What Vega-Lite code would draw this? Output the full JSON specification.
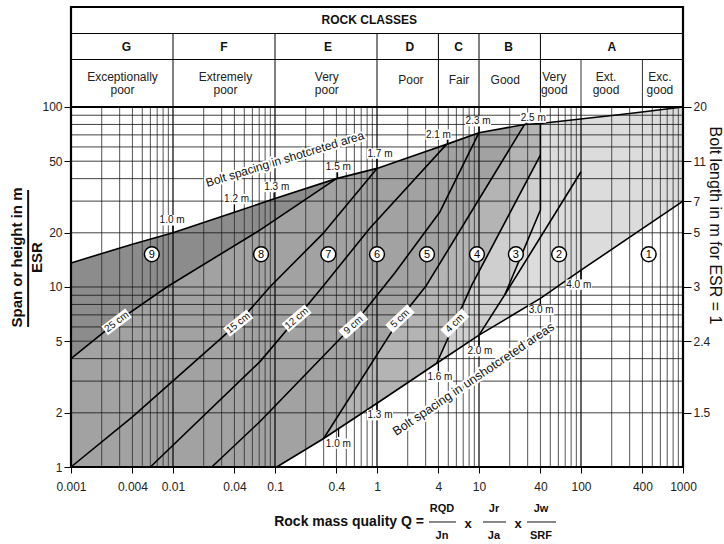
{
"$schema":"https://vega.github.io/schema/vega-lite/v6.json",
"width":612,"height":460,
"autosize":{"type":"none"},
"padding":{"left":71,"top":7,"right":41,"bottom":77},
"background":"white",
"config":{"view":{"stroke":null},"axis":{"domain":false,"grid":false,"tickColor":"#000","labelColor":"#222","labelFont":"Liberation Sans","labelFontSize":12,"titleFont":"Liberation Sans","titleColor":"#111"},"text":{"font":"Liberation Sans"}},
"datasets":{
"polys":[
{"p":"R2","i":0,"q":10,"s":5.4},{"p":"R2","i":1,"q":40,"s":8.65},{"p":"R2","i":2,"q":100,"s":12.4},{"p":"R2","i":3,"q":1000,"s":30},{"p":"R2","i":4,"q":1000,"s":100},{"p":"R2","i":5,"q":300,"s":92},{"p":"R2","i":6,"q":40,"s":81},{"p":"R2","i":7,"q":40,"s":26.8},{"p":"R2","i":8,"q":18,"s":9.1},
{"p":"R3","i":0,"q":3.85,"s":3.77},{"p":"R3","i":1,"q":8.47,"s":10.2},{"p":"R3","i":2,"q":40,"s":54},{"p":"R3","i":3,"q":40,"s":26.8},{"p":"R3","i":4,"q":18,"s":9.1},{"p":"R3","i":5,"q":10,"s":5.4},
{"p":"R4","i":0,"q":0.3,"s":1.44},{"p":"R4","i":1,"q":1.68,"s":6.67},{"p":"R4","i":2,"q":3.05,"s":10.2},{"p":"R4","i":3,"q":28,"s":80},{"p":"R4","i":4,"q":40,"s":81},{"p":"R4","i":5,"q":40,"s":54},{"p":"R4","i":6,"q":8.47,"s":10.2},{"p":"R4","i":7,"q":3.85,"s":3.77},{"p":"R4","i":8,"q":1,"s":2.26},
{"p":"M","i":0,"q":0.001,"s":1},{"p":"M","i":1,"q":0.104,"s":1},{"p":"M","i":2,"q":0.3,"s":1.44},{"p":"M","i":3,"q":1.68,"s":6.67},{"p":"M","i":4,"q":3.05,"s":10.2},{"p":"M","i":5,"q":28,"s":80},{"p":"M","i":6,"q":10,"s":72},{"p":"M","i":7,"q":4.8,"s":62},{"p":"M","i":8,"q":2.6,"s":55},{"p":"M","i":9,"q":1,"s":45.6},{"p":"M","i":10,"q":0.4,"s":40},{"p":"M","i":11,"q":0.1,"s":31},{"p":"M","i":12,"q":0.04,"s":26},{"p":"M","i":13,"q":0.01,"s":20},{"p":"M","i":14,"q":0.004,"s":17.3},{"p":"M","i":15,"q":0.001,"s":13.6},
{"p":"D","i":0,"q":0.001,"s":4},{"p":"D","i":1,"q":0.0028,"s":6.4},{"p":"D","i":2,"q":0.0087,"s":10},{"p":"D","i":3,"q":0.071,"s":20.7},{"p":"D","i":4,"q":0.4,"s":40},{"p":"D","i":5,"q":0.1,"s":31},{"p":"D","i":6,"q":0.04,"s":26},{"p":"D","i":7,"q":0.01,"s":20},{"p":"D","i":8,"q":0.004,"s":17.3},{"p":"D","i":9,"q":0.001,"s":13.6}
],
"lines":[
{"id":"top","i":0,"q":0.001,"s":13.6},{"id":"top","i":1,"q":0.004,"s":17.3},{"id":"top","i":2,"q":0.01,"s":20},{"id":"top","i":3,"q":0.04,"s":26},{"id":"top","i":4,"q":0.1,"s":31},{"id":"top","i":5,"q":0.4,"s":40},{"id":"top","i":6,"q":1,"s":45.6},{"id":"top","i":7,"q":2.6,"s":55},{"id":"top","i":8,"q":4.8,"s":62},{"id":"top","i":9,"q":10,"s":72},{"id":"top","i":10,"q":28,"s":80},{"id":"top","i":11,"q":40,"s":81},{"id":"top","i":12,"q":300,"s":92},{"id":"top","i":13,"q":1000,"s":100},
{"id":"low","i":0,"q":0.104,"s":1},{"id":"low","i":1,"q":0.3,"s":1.44},{"id":"low","i":2,"q":1,"s":2.26},{"id":"low","i":3,"q":3.85,"s":3.77},{"id":"low","i":4,"q":10,"s":5.4},{"id":"low","i":5,"q":40,"s":8.65},{"id":"low","i":6,"q":100,"s":12.4},{"id":"low","i":7,"q":1000,"s":30},
{"id":"l25","i":0,"q":0.001,"s":4},{"id":"l25","i":1,"q":0.0028,"s":6.4},{"id":"l25","i":2,"q":0.0087,"s":10},{"id":"l25","i":3,"q":0.071,"s":20.7},{"id":"l25","i":4,"q":0.4,"s":40},
{"id":"l15","i":0,"q":0.001,"s":1},{"id":"l15","i":1,"q":0.004,"s":1.9},{"id":"l15","i":2,"q":0.0436,"s":6.3},{"id":"l15","i":3,"q":0.089,"s":10},{"id":"l15","i":4,"q":0.3,"s":20},{"id":"l15","i":5,"q":1,"s":45.6},
{"id":"l12","i":0,"q":0.006,"s":1},{"id":"l12","i":1,"q":0.0713,"s":3.85},{"id":"l12","i":2,"q":0.163,"s":6.7},{"id":"l12","i":3,"q":0.3,"s":10.2},{"id":"l12","i":4,"q":0.85,"s":21.2},{"id":"l12","i":5,"q":4.8,"s":62},
{"id":"l9","i":0,"q":0.024,"s":1},{"id":"l9","i":1,"q":0.0713,"s":1.79},{"id":"l9","i":2,"q":0.586,"s":6.15},{"id":"l9","i":3,"q":1.5,"s":12},{"id":"l9","i":4,"q":4.15,"s":26.2},{"id":"l9","i":5,"q":10,"s":72},
{"id":"c5","i":0,"q":0.3,"s":1.44},{"id":"c5","i":1,"q":1.68,"s":6.67},{"id":"c5","i":2,"q":3.05,"s":10.2},{"id":"c5","i":3,"q":28,"s":80},
{"id":"c4","i":0,"q":3.85,"s":3.77},{"id":"c4","i":1,"q":8.47,"s":10.2},{"id":"c4","i":2,"q":40,"s":54},
{"id":"r32","i":0,"q":10,"s":5.4},{"id":"r32","i":1,"q":18,"s":9.1},{"id":"r32","i":2,"q":100,"s":43.7},
{"id":"fv","i":0,"q":18,"s":9.1},{"id":"fv","i":1,"q":40,"s":26.8},{"id":"fv","i":2,"q":40,"s":81}
],
"vgrid":[
{"q":0.002,"m":false},{"q":0.003,"m":false},{"q":0.004,"m":false},{"q":0.005,"m":false},{"q":0.006,"m":false},{"q":0.007,"m":false},{"q":0.008,"m":false},{"q":0.009,"m":false},{"q":0.01,"m":true},
{"q":0.02,"m":false},{"q":0.03,"m":false},{"q":0.04,"m":false},{"q":0.05,"m":false},{"q":0.06,"m":false},{"q":0.07,"m":false},{"q":0.08,"m":false},{"q":0.09,"m":false},{"q":0.1,"m":true},
{"q":0.2,"m":false},{"q":0.3,"m":false},{"q":0.4,"m":false},{"q":0.5,"m":false},{"q":0.6,"m":false},{"q":0.7,"m":false},{"q":0.8,"m":false},{"q":0.9,"m":false},{"q":1,"m":true},
{"q":2,"m":false},{"q":3,"m":false},{"q":4,"m":false},{"q":5,"m":false},{"q":6,"m":false},{"q":7,"m":false},{"q":8,"m":false},{"q":9,"m":false},{"q":10,"m":true},
{"q":20,"m":false},{"q":30,"m":false},{"q":40,"m":false},{"q":50,"m":false},{"q":60,"m":false},{"q":70,"m":false},{"q":80,"m":false},{"q":90,"m":false},{"q":100,"m":true},
{"q":200,"m":false},{"q":300,"m":false},{"q":400,"m":false},{"q":500,"m":false},{"q":600,"m":false},{"q":700,"m":false},{"q":800,"m":false},{"q":900,"m":false}
],
"hgrid":[{"s":2},{"s":3},{"s":4},{"s":5},{"s":6},{"s":7},{"s":8},{"s":9},{"s":10},{"s":20},{"s":30},{"s":40},{"s":50},{"s":60},{"s":70},{"s":80},{"s":90}],
"regions":[{"n":"9","q":0.0062},{"n":"8","q":0.073},{"n":"7","q":0.333},{"n":"6","q":1.0},{"n":"5","q":3.09},{"n":"4","q":9.55},{"n":"3","q":23},{"n":"2","q":61},{"n":"1","q":461}],
"thick":[{"t":"25 cm","q":0.0028,"s":6.4},{"t":"15 cm","q":0.0436,"s":6.3},{"t":"12 cm","q":0.163,"s":6.7},{"t":"9 cm","q":0.586,"s":6.15},{"t":"5 cm","q":1.68,"s":6.67},{"t":"4 cm","q":5.8,"s":6.3}],
"spacing":[
{"t":"1.0 m","q":0.0098,"s":23.5,"tq":0.01,"s1":21.8,"s2":20},
{"t":"1.2 m","q":0.042,"s":30.8,"tq":0.04,"s1":28.8,"s2":26},
{"t":"1.3 m","q":0.104,"s":36.0,"tq":0.098,"s1":33.5,"s2":30.9},
{"t":"1.5 m","q":0.418,"s":46.4,"tq":0.41,"s1":43.5,"s2":40.2},
{"t":"1.7 m","q":1.07,"s":55.1,"tq":1.0,"s1":51.5,"s2":45.6},
{"t":"2.1 m","q":4.0,"s":70.3,"tq":4.9,"s1":66.5,"s2":62},
{"t":"2.3 m","q":9.8,"s":83.3,"tq":10,"s1":79,"s2":72},
{"t":"2.5 m","q":34,"s":87.3,"tq":29,"s1":84,"s2":80},
{"t":"1.0 m","q":0.418,"s":1.35,"tq":0.42,"s1":1.63,"s2":1.47},
{"t":"1.3 m","q":1.07,"s":1.94,"tq":1.0,"s1":2.26,"s2":2.08},
{"t":"1.6 m","q":4.14,"s":3.17,"tq":4.0,"s1":3.8,"s2":3.42},
{"t":"2.0 m","q":10.2,"s":4.4,"tq":10,"s1":5.4,"s2":4.75},
{"t":"3.0 m","q":40.7,"s":7.45,"tq":40,"s1":8.65,"s2":7.95},
{"t":"4.0 m","q":95,"s":10.3,"tq":100,"s1":12.4,"s2":11}
],
"classes":[{"t":"G","q":0.0035},{"t":"F","q":0.0316},{"t":"E","q":0.33},{"t":"D","q":2.1},{"t":"C","q":6.3},{"t":"B","q":19.5},{"t":"A","q":200}],
"desc2":[{"t":"Exceptionally\npoor","q":0.0032},{"t":"Extremely\npoor","q":0.0327},{"t":"Very\npoor","q":0.322},{"t":"Very\ngood","q":54.7},{"t":"Ext.\ngood","q":176},{"t":"Exc.\ngood","q":594}],
"desc1":[{"t":"Poor","q":2.15},{"t":"Fair","q":6.37},{"t":"Good","q":18.1}],
"hdivFull":[{"q":0.01},{"q":0.1},{"q":1},{"q":4},{"q":10},{"q":40}],
"hdivSub":[{"q":100},{"q":400}],
"fracNum":[{"t":"RQD","q":4.338},{"t":"Jr","q":14.03},{"t":"Jw","q":40.53}],
"fracDen":[{"t":"Jn","q":4.338},{"t":"Ja","q":14.03},{"t":"SRF","q":40.53}],
"fracBars":[{"q":3.234,"q2":5.95},{"q":10.94,"q2":18.39},{"q":29.55,"q2":56.88}],
"times":[{"t":"x","q":7.8},{"t":"x","q":24.12}]
},
"layer":[
{"data":{"name":"polys"},"transform":[{"filter":"datum.p==='R2'"}],"mark":{"type":"line","fill":"#dcdcdc","strokeOpacity":0},"encoding":{"x":{"field":"q","type":"quantitative","scale":{"type":"log","domain":[0.001,1000],"nice":false},"axis":null},"y":{"field":"s","type":"quantitative","scale":{"type":"log","domain":[1,359.38],"nice":false},"axis":null},"order":{"field":"i","type":"quantitative"}}},
{"data":{"name":"polys"},"transform":[{"filter":"datum.p==='R3'"}],"mark":{"type":"line","fill":"#cfcfcf","strokeOpacity":0},"encoding":{"x":{"field":"q","type":"quantitative","scale":{"type":"log","domain":[0.001,1000],"nice":false},"axis":null},"y":{"field":"s","type":"quantitative","scale":{"type":"log","domain":[1,359.38],"nice":false},"axis":null},"order":{"field":"i","type":"quantitative"}}},
{"data":{"name":"polys"},"transform":[{"filter":"datum.p==='R4'"}],"mark":{"type":"line","fill":"#b4b4b4","strokeOpacity":0},"encoding":{"x":{"field":"q","type":"quantitative","scale":{"type":"log","domain":[0.001,1000],"nice":false},"axis":null},"y":{"field":"s","type":"quantitative","scale":{"type":"log","domain":[1,359.38],"nice":false},"axis":null},"order":{"field":"i","type":"quantitative"}}},
{"data":{"name":"polys"},"transform":[{"filter":"datum.p==='M'"}],"mark":{"type":"line","fill":"#a2a2a2","strokeOpacity":0},"encoding":{"x":{"field":"q","type":"quantitative","scale":{"type":"log","domain":[0.001,1000],"nice":false},"axis":null},"y":{"field":"s","type":"quantitative","scale":{"type":"log","domain":[1,359.38],"nice":false},"axis":null},"order":{"field":"i","type":"quantitative"}}},
{"data":{"name":"polys"},"transform":[{"filter":"datum.p==='D'"}],"mark":{"type":"line","fill":"#8c8c8c","strokeOpacity":0},"encoding":{"x":{"field":"q","type":"quantitative","scale":{"type":"log","domain":[0.001,1000],"nice":false},"axis":null},"y":{"field":"s","type":"quantitative","scale":{"type":"log","domain":[1,359.38],"nice":false},"axis":null},"order":{"field":"i","type":"quantitative"}}},
{"data":{"name":"vgrid"},"mark":{"type":"rule"},
 "encoding":{
  "x":{"field":"q","type":"quantitative","scale":{"type":"log","domain":[0.001,1000],"nice":false},
   "axis":{"orient":"bottom","values":[0.001,0.004,0.01,0.04,0.1,0.4,1,4,10,40,100,400,1000],"format":"~g","tickSize":6,"labelPadding":8,"title":null,"labelFlush":false,"labelOverlap":false}},
  "y":{"datum":1,"type":"quantitative","scale":{"type":"log","domain":[1,359.38],"nice":false},"axis":null},
  "y2":{"datum":100},
  "stroke":{"condition":{"test":"datum.m","value":"#000"},"value":"#2a2a2a"},
  "strokeWidth":{"condition":{"test":"datum.m","value":1.2},"value":0.8}}},
{"data":{"name":"hgrid"},"mark":{"type":"rule","stroke":"#111","strokeWidth":0.8},
 "encoding":{
  "x":{"datum":0.001,"type":"quantitative","scale":{"type":"log","domain":[0.001,1000],"nice":false},"axis":null},
  "x2":{"datum":1000},
  "y":{"field":"s","type":"quantitative","scale":{"type":"log","domain":[1,359.38],"nice":false},
   "axis":{"orient":"left","values":[1,2,5,10,20,50,100],"format":"~g","tickSize":7,"labelPadding":2,
    "title":["Span or height in m","ESR"],"titleAngle":-90,"titleFontSize":15,"titleFontWeight":"bold","titleLineHeight":20,"titleX":-55,"titleY":250,"titleAlign":"center","titleBaseline":"middle"}}}},
{"data":{"values":[{}]},"mark":{"type":"rule","stroke":"#111","strokeWidth":2},
 "encoding":{
  "x":{"datum":0.00038,"type":"quantitative","scale":{"type":"log","domain":[0.001,1000],"nice":false},"axis":null},
  "y":{"datum":6.0,"type":"quantitative","scale":{"type":"log","domain":[1,359.38],"nice":false},"axis":null},
  "y2":{"datum":34.6}}},
{"data":{"name":"lines"},"mark":{"type":"line","stroke":"#000","strokeWidth":1.6,"strokeJoin":"round"},
 "encoding":{"detail":{"field":"id"},"order":{"field":"i","type":"quantitative"},
  "x":{"field":"q","type":"quantitative","scale":{"type":"log","domain":[0.001,1000],"nice":false},"axis":null},
  "y":{"field":"s","type":"quantitative","scale":{"type":"log","domain":[1,359.38],"nice":false},
   "axis":{"orient":"right","values":[2,5,10,20,30,50,100],"labelExpr":"datum.value==2?'1.5':datum.value==5?'2.4':datum.value==10?'3':datum.value==20?'5':datum.value==30?'7':datum.value==50?'11':'20'","tickSize":8,"labelPadding":2,
    "title":"Bolt length in m for ESR = 1","titleAngle":90,"titleFontSize":16,"titleFontWeight":"normal","titleX":26,"titleY":218,"titleAlign":"center","titleBaseline":"alphabetic"}}}},
{"data":{"name":"spacing"},"mark":{"type":"rule","stroke":"#000","strokeWidth":1.3},
 "encoding":{
  "x":{"field":"tq","type":"quantitative","scale":{"type":"log","domain":[0.001,1000],"nice":false},"axis":null},
  "y":{"field":"s1","type":"quantitative","scale":{"type":"log","domain":[1,359.38],"nice":false},"axis":null},
  "y2":{"field":"s2"}}},
{"data":{"name":"spacing"},"mark":{"type":"point","shape":"M-1,-0.4L1,-0.4L1,0.4L-1,0.4Z","filled":true,"fill":"white","stroke":null,"size":676,"opacity":1},
 "encoding":{"x":{"field":"q","type":"quantitative","scale":{"type":"log","domain":[0.001,1000],"nice":false},"axis":null},"y":{"field":"s","type":"quantitative","scale":{"type":"log","domain":[1,359.38],"nice":false},"axis":null}}},
{"data":{"name":"spacing"},"mark":{"type":"text","fontSize":10,"fill":"#111","baseline":"middle","align":"center"},
 "encoding":{"text":{"field":"t"},"x":{"field":"q","type":"quantitative","scale":{"type":"log","domain":[0.001,1000],"nice":false},"axis":null},"y":{"field":"s","type":"quantitative","scale":{"type":"log","domain":[1,359.38],"nice":false},"axis":null}}},
{"data":{"name":"thick"},"mark":{"type":"point","shape":"M-1,-0.37L1,-0.37L1,0.37L-1,0.37Z","filled":true,"fill":"white","stroke":null,"size":900,"opacity":1},
 "encoding":{"x":{"field":"q","type":"quantitative","scale":{"type":"log","domain":[0.001,1000],"nice":false},"axis":null},"y":{"field":"s","type":"quantitative","scale":{"type":"log","domain":[1,359.38],"nice":false},"axis":null},
  "angle":{"field":"t","type":"nominal","scale":{"domain":["25 cm","15 cm","12 cm","9 cm","5 cm","4 cm"],"range":[-37,-45,-50,-55,-60,-65]},"legend":null}}},
{"data":{"name":"thick"},"mark":{"type":"text","fontSize":10,"fill":"#111","baseline":"middle","align":"center"},
 "encoding":{"text":{"field":"t"},"x":{"field":"q","type":"quantitative","scale":{"type":"log","domain":[0.001,1000],"nice":false},"axis":null},"y":{"field":"s","type":"quantitative","scale":{"type":"log","domain":[1,359.38],"nice":false},"axis":null},
  "angle":{"field":"t","type":"nominal","scale":{"domain":["25 cm","15 cm","12 cm","9 cm","5 cm","4 cm"],"range":[-37,-45,-50,-55,-60,-65]},"legend":null}}},
{"data":{"name":"regions"},"mark":{"type":"point","shape":"circle","filled":true,"fill":"white","stroke":"#000","strokeWidth":1.5,"size":220,"opacity":1},
 "encoding":{"x":{"field":"q","type":"quantitative","scale":{"type":"log","domain":[0.001,1000],"nice":false},"axis":null},"y":{"datum":15.2,"type":"quantitative","scale":{"type":"log","domain":[1,359.38],"nice":false},"axis":null}}},
{"data":{"name":"regions"},"mark":{"type":"text","fontSize":11,"fill":"#000","baseline":"middle","align":"center","dy":0.5},
 "encoding":{"text":{"field":"n"},"x":{"field":"q","type":"quantitative","scale":{"type":"log","domain":[0.001,1000],"nice":false},"axis":null},"y":{"datum":15.2,"type":"quantitative","scale":{"type":"log","domain":[1,359.38],"nice":false},"axis":null}}},
{"data":{"values":[{}]},"mark":{"type":"text","text":"Bolt spacing in shotcreted area","fontSize":12,"angle":-17,"stroke":"white","strokeWidth":4,"strokeJoin":"round","fill":"white","baseline":"middle","align":"center"},
 "encoding":{"x":{"datum":0.125,"type":"quantitative","scale":{"type":"log","domain":[0.001,1000],"nice":false},"axis":null},"y":{"datum":51.4,"type":"quantitative","scale":{"type":"log","domain":[1,359.38],"nice":false},"axis":null}}},
{"data":{"values":[{}]},"mark":{"type":"text","text":"Bolt spacing in shotcreted area","fontSize":12,"angle":-17,"fill":"#111","baseline":"middle","align":"center"},
 "encoding":{"x":{"datum":0.125,"type":"quantitative","scale":{"type":"log","domain":[0.001,1000],"nice":false},"axis":null},"y":{"datum":51.4,"type":"quantitative","scale":{"type":"log","domain":[1,359.38],"nice":false},"axis":null}}},
{"data":{"values":[{}]},"mark":{"type":"text","text":"Bolt spacing in unshotcreted areas","fontSize":12.5,"angle":-34,"stroke":"white","strokeWidth":4,"strokeJoin":"round","fill":"white","baseline":"middle","align":"center"},
 "encoding":{"x":{"datum":8.83,"type":"quantitative","scale":{"type":"log","domain":[0.001,1000],"nice":false},"axis":null},"y":{"datum":3.08,"type":"quantitative","scale":{"type":"log","domain":[1,359.38],"nice":false},"axis":null}}},
{"data":{"values":[{}]},"mark":{"type":"text","text":"Bolt spacing in unshotcreted areas","fontSize":12.5,"angle":-34,"fill":"#111","baseline":"middle","align":"center"},
 "encoding":{"x":{"datum":8.83,"type":"quantitative","scale":{"type":"log","domain":[0.001,1000],"nice":false},"axis":null},"y":{"datum":3.08,"type":"quantitative","scale":{"type":"log","domain":[1,359.38],"nice":false},"axis":null}}},
{"data":{"name":"hdivFull"},"mark":{"type":"rule","stroke":"#000","strokeWidth":1},
 "encoding":{"x":{"field":"q","type":"quantitative","scale":{"type":"log","domain":[0.001,1000],"nice":false},"axis":null},"y":{"datum":100,"type":"quantitative","scale":{"type":"log","domain":[1,359.38],"nice":false},"axis":null},"y2":{"datum":256.1}}},
{"data":{"name":"hdivSub"},"mark":{"type":"rule","stroke":"#333","strokeWidth":1},
 "encoding":{"x":{"field":"q","type":"quantitative","scale":{"type":"log","domain":[0.001,1000],"nice":false},"axis":null},"y":{"datum":100,"type":"quantitative","scale":{"type":"log","domain":[1,359.38],"nice":false},"axis":null},"y2":{"datum":183.6}}},
{"data":{"values":[{}]},"mark":{"type":"rule","stroke":"#000","strokeWidth":1.2},
 "encoding":{"x":{"datum":0.001,"type":"quantitative","scale":{"type":"log","domain":[0.001,1000],"nice":false},"axis":null},"x2":{"datum":1000},"y":{"datum":256.1,"type":"quantitative","scale":{"type":"log","domain":[1,359.38],"nice":false},"axis":null}}},
{"data":{"values":[{}]},"mark":{"type":"rule","stroke":"#000","strokeWidth":1.2},
 "encoding":{"x":{"datum":0.001,"type":"quantitative","scale":{"type":"log","domain":[0.001,1000],"nice":false},"axis":null},"x2":{"datum":1000},"y":{"datum":183.6,"type":"quantitative","scale":{"type":"log","domain":[1,359.38],"nice":false},"axis":null}}},
{"data":{"values":[{}]},"mark":{"type":"rule","stroke":"#000","strokeWidth":2.2},
 "encoding":{"x":{"datum":0.001,"type":"quantitative","scale":{"type":"log","domain":[0.001,1000],"nice":false},"axis":null},"x2":{"datum":1000},"y":{"datum":100,"type":"quantitative","scale":{"type":"log","domain":[1,359.38],"nice":false},"axis":null}}},
{"data":{"values":[{}]},"mark":{"type":"rect","filled":false,"stroke":"#000","strokeWidth":2.2},
 "encoding":{"x":{"datum":0.001,"type":"quantitative","scale":{"type":"log","domain":[0.001,1000],"nice":false},"axis":null},"x2":{"datum":1000},"y":{"datum":1,"type":"quantitative","scale":{"type":"log","domain":[1,359.38],"nice":false},"axis":null},"y2":{"datum":359.38}}},
{"data":{"values":[{}]},"mark":{"type":"text","text":"ROCK CLASSES","fontSize":12,"fontWeight":"bold","fill":"#111","baseline":"middle","align":"center"},
 "encoding":{"x":{"datum":0.84,"type":"quantitative","scale":{"type":"log","domain":[0.001,1000],"nice":false},"axis":null},"y":{"datum":302.4,"type":"quantitative","scale":{"type":"log","domain":[1,359.38],"nice":false},"axis":null}}},
{"data":{"name":"classes"},"mark":{"type":"text","fontSize":12,"fontWeight":"bold","fill":"#111","baseline":"middle","align":"center"},
 "encoding":{"text":{"field":"t"},"x":{"field":"q","type":"quantitative","scale":{"type":"log","domain":[0.001,1000],"nice":false},"axis":null},"y":{"datum":215.4,"type":"quantitative","scale":{"type":"log","domain":[1,359.38],"nice":false},"axis":null}}},
{"data":{"name":"desc2"},"mark":{"type":"text","fontSize":12,"fill":"#222","baseline":"middle","align":"center","lineBreak":"\n","lineHeight":13},
 "encoding":{"text":{"field":"t"},"x":{"field":"q","type":"quantitative","scale":{"type":"log","domain":[0.001,1000],"nice":false},"axis":null},"y":{"datum":146.8,"type":"quantitative","scale":{"type":"log","domain":[1,359.38],"nice":false},"axis":null}}},
{"data":{"name":"desc1"},"mark":{"type":"text","fontSize":12,"fill":"#222","baseline":"middle","align":"center"},
 "encoding":{"text":{"field":"t"},"x":{"field":"q","type":"quantitative","scale":{"type":"log","domain":[0.001,1000],"nice":false},"axis":null},"y":{"datum":141.3,"type":"quantitative","scale":{"type":"log","domain":[1,359.38],"nice":false},"axis":null}}},
{"data":{"values":[{}]},"mark":{"type":"text","text":"Rock mass quality Q =","fontSize":14,"fontWeight":"bold","fill":"#111","baseline":"middle","align":"right"},
 "encoding":{"x":{"datum":2.889,"type":"quantitative","scale":{"type":"log","domain":[0.001,1000],"nice":false},"axis":null},"y":{"datum":0.4949,"type":"quantitative","scale":{"type":"log","domain":[1,359.38],"nice":false},"axis":null}}},
{"data":{"name":"fracNum"},"mark":{"type":"text","fontSize":11,"fontWeight":"bold","fill":"#111","baseline":"middle","align":"center"},
 "encoding":{"text":{"field":"t"},"x":{"field":"q","type":"quantitative","scale":{"type":"log","domain":[0.001,1000],"nice":false},"axis":null},"y":{"datum":0.5843,"type":"quantitative","scale":{"type":"log","domain":[1,359.38],"nice":false},"axis":null}}},
{"data":{"name":"fracDen"},"mark":{"type":"text","fontSize":11,"fontWeight":"bold","fill":"#111","baseline":"middle","align":"center"},
 "encoding":{"text":{"field":"t"},"x":{"field":"q","type":"quantitative","scale":{"type":"log","domain":[0.001,1000],"nice":false},"axis":null},"y":{"datum":0.4135,"type":"quantitative","scale":{"type":"log","domain":[1,359.38],"nice":false},"axis":null}}},
{"data":{"name":"times"},"mark":{"type":"text","fontSize":13,"fontWeight":"bold","fill":"#111","baseline":"middle","align":"center"},
 "encoding":{"text":{"field":"t"},"x":{"field":"q","type":"quantitative","scale":{"type":"log","domain":[0.001,1000],"nice":false},"axis":null},"y":{"datum":0.4826,"type":"quantitative","scale":{"type":"log","domain":[1,359.38],"nice":false},"axis":null}}},
{"data":{"name":"fracBars"},"mark":{"type":"rule","stroke":"#111","strokeWidth":1},
 "encoding":{"x":{"field":"q","type":"quantitative","scale":{"type":"log","domain":[0.001,1000],"nice":false},"axis":null},"x2":{"field":"q2"},"y":{"datum":0.4949,"type":"quantitative","scale":{"type":"log","domain":[1,359.38],"nice":false},"axis":null}}}
],
"resolve":{"axis":{"x":"independent","y":"independent"}}
}
